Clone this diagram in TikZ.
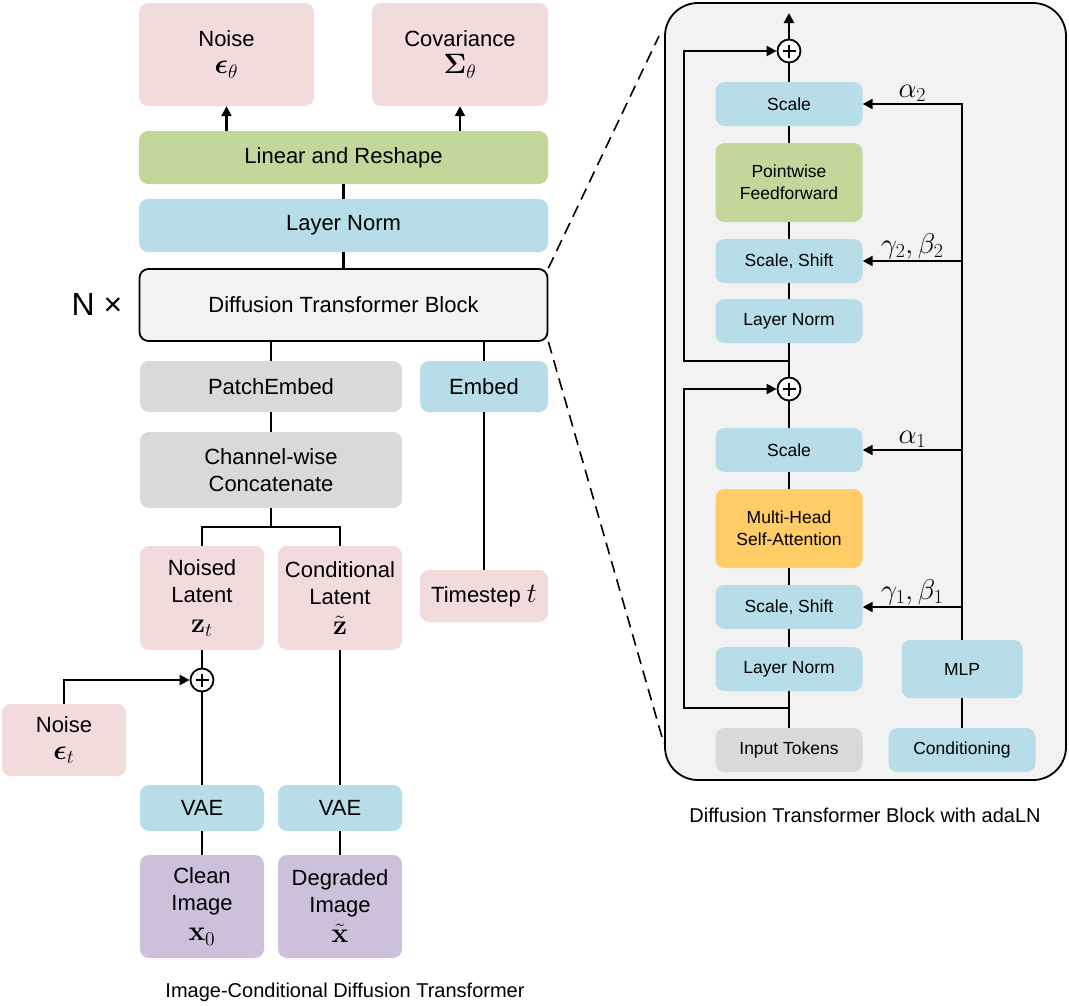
\documentclass[tikz,border=0pt]{standalone}
\usepackage{amsmath}
\usepackage{bm}
\usepackage[no-math]{fontspec}
\setmainfont{Liberation Sans}
\usetikzlibrary{arrows.meta}

\definecolor{pinkfill}{HTML}{F2DCDB}
\definecolor{greenfill}{HTML}{C4D79B}
\definecolor{bluefill}{HTML}{B7DEE8}
\definecolor{grayfill}{HTML}{D9D9D9}
\definecolor{purplefill}{HTML}{CCC0DA}
\definecolor{orangefill}{HTML}{FFCC66}
\definecolor{panelfill}{HTML}{F2F2F2}

\newcommand{\mathline}[1]{\scalebox{1.35}{$#1$}}
\newcommand{\gainlbl}[1]{\scalebox{1.15}{$#1$}}

\begin{document}
\begin{tikzpicture}[
    x=1pt, y=-1pt,
    wh/.style 2 args={minimum width=#1pt, minimum height=#2pt},
    block/.style={rounded corners=9pt, inner sep=0pt, align=center, font=\fontsize{22}{27}\selectfont},
    sblock/.style={block, wh={147}{44}, font=\fontsize{17.5}{22}\selectfont},
    plus/.style={circle, draw=black, fill=white, line width=1.8pt, minimum size=23pt, inner sep=0pt,
      path picture={\draw[line width=1.8pt] (path picture bounding box.center) +(-6.5pt,0) -- +(6.5pt,0)
        (path picture bounding box.center) +(0,-6.5pt) -- +(0,6.5pt);}},
    edge/.style={line width=2.2pt},
    arr/.style={edge, -{Triangle[length=10pt, width=10pt]}},
    zoomline/.style={line width=1.6pt, dash pattern=on 12pt off 7pt},
    caption/.style={font=\fontsize{20}{24}\selectfont},
    gain/.style={above, inner sep=1pt, font=\fontsize{26}{30}\selectfont}
  ]
  \useasboundingbox (0,0) rectangle (1069,1005);

  % left: image-conditional DiT
  \node (noiseout) at (226.5, 54.5)  [block, wh={175}{103}, fill=pinkfill] {Noise\\\mathline{\bm{\epsilon}_\theta}};
  \node (cov)      at (460, 54.5)    [block, wh={176}{103}, fill=pinkfill] {Covariance\\\mathline{\bm{\Sigma}_\theta}};
  \node (linear)   at (343.5, 157.5) [block, wh={409}{53}, fill=greenfill] {Linear and Reshape};
  \node (lnorm)    at (343.5, 225.5) [block, wh={409}{53}, fill=bluefill] {Layer Norm};
  \node (dit)      at (343.5, 305)   [block, wh={408}{72}, fill=panelfill, draw=black, line width=1.8pt] {Diffusion Transformer Block};
  \node (nx)       at (97, 304)      [font=\fontsize{32}{36}\selectfont] {N ×};

  \node (patch)    at (271, 386.5)   [block, wh={262}{51}, fill=grayfill] {PatchEmbed};
  \node (embed)    at (484, 386.5)   [block, wh={128}{51}, fill=bluefill] {Embed};
  \node (concat)   at (271, 470)     [block, wh={262}{76}, fill=grayfill] {Channel-wise\\Concatenate};
  \node (noised)   at (202, 598)     [block, wh={124}{104}, fill=pinkfill] {Noised\\Latent\\[3pt]\mathline{\mathbf{z}_t}};
  \node (cond)     at (340, 598)     [block, wh={124}{104}, fill=pinkfill] {Conditional\\Latent\\[3pt]\mathline{\tilde{\mathbf{z}}}};
  \node (tstep)    at (484, 596)     [block, wh={128}{52}, fill=pinkfill] {Timestep \mathline{t}};
  \node (plus1)    at (202, 680)     [plus] {};
  \node (noisein)  at (64, 740)      [block, wh={124}{72}, fill=pinkfill] {Noise\\\mathline{\bm{\epsilon}_t}};
  \node (vae1)     at (202, 808)     [block, wh={124}{46}, fill=bluefill] {VAE};
  \node (vae2)     at (340, 808)     [block, wh={124}{46}, fill=bluefill] {VAE};
  \node (clean)    at (202, 906.5)   [block, wh={124}{103}, fill=purplefill] {Clean\\Image\\[3pt]\mathline{\mathbf{x}_0}};
  \node (degr)     at (340, 906.5)   [block, wh={124}{103}, fill=purplefill] {Degraded\\Image\\[3pt]\mathline{\tilde{\mathbf{x}}}};
  \node (cap1)     at (345, 992)     [caption] {Image-Conditional Diffusion Transformer};

  \draw [arr] (linear.north -| noiseout) -- (noiseout.south);
  \draw [arr] (linear.north -| cov) -- (cov.south);
  \draw [edge] (linear.south) -- (lnorm.north);
  \draw [edge] (lnorm.south) -- (dit.north);
  \draw [edge] (patch.north) -- (patch |- dit.south);
  \draw [edge] (embed.north) -- (embed |- dit.south);
  \draw [edge] (concat.north) -- (patch.south);
  \draw [edge] (concat.south) -- ++(0,19) coordinate (split) -| (noised.north);
  \draw [edge] (split) -| (cond.north);
  \draw [edge] (tstep.north) -- (embed.south);
  \draw [edge] (noised.south) -- (plus1.north);
  \draw [edge] (plus1.south) -- (vae1.north);
  \draw [arr] (noisein.north) |- (plus1.west);
  \draw [edge] (cond.south) -- (vae2.north);
  \draw [edge] (vae1.south) -- (clean.north);
  \draw [edge] (vae2.south) -- (degr.north);

  % right: block with adaLN
  \node (panel)    at (865.5, 391.5) [wh={401}{777}, draw=black, line width=1.8pt, fill=panelfill, rounded corners=33pt] {};
  \node (plus3)    at (789, 51)      [plus] {};
  \node (scale2)   at (789, 104)     [sblock, fill=bluefill] {Scale};
  \node (ffn)      at (789, 182.5)   [sblock, wh={147}{79}, fill=greenfill] {Pointwise\\Feedforward};
  \node (shift2)   at (789, 261)     [sblock, fill=bluefill] {Scale, Shift};
  \node (ln2)      at (789, 321)     [sblock, fill=bluefill] {Layer Norm};
  \node (plus2)    at (789, 389)     [plus] {};
  \node (scale1)   at (789, 450)     [sblock, fill=bluefill] {Scale};
  \node (mhsa)     at (789, 528.5)   [sblock, wh={147}{79}, fill=orangefill] {Multi-Head\\Self-Attention};
  \node (shift1)   at (789, 607)     [sblock, fill=bluefill] {Scale, Shift};
  \node (ln1)      at (789, 669)     [sblock, fill=bluefill] {Layer Norm};
  \node (tokens)   at (789, 750)     [sblock, fill=grayfill] {Input Tokens};
  \node (mlp)      at (962, 669)     [sblock, wh={121}{58}, fill=bluefill] {MLP};
  \node (condn)    at (962, 750)     [sblock, fill=bluefill] {Conditioning};
  \node (cap2)     at (865, 815)     [caption] {Diffusion Transformer Block with adaLN};
  \coordinate (out)  at (789, 13);
  \coordinate (res1) at (789, 708);
  \coordinate (res2) at (789, 361);

  \draw [edge] (tokens.north) -- (ln1.south);
  \draw [edge] (ln1.north) -- (shift1.south);
  \draw [edge] (shift1.north) -- (mhsa.south);
  \draw [edge] (mhsa.north) -- (scale1.south);
  \draw [edge] (scale1.north) -- (plus2.south);
  \draw [edge] (plus2.north) -- (ln2.south);
  \draw [edge] (ln2.north) -- (shift2.south);
  \draw [edge] (shift2.north) -- (ffn.south);
  \draw [edge] (ffn.north) -- (scale2.south);
  \draw [edge] (scale2.north) -- (plus3.south);
  \draw [arr] (plus3.north) -- (out);
  \draw [arr] (res1) -- ++(-105,0) |- (plus2.west);
  \draw [arr] (res2) -- ++(-105,0) |- (plus3.west);

  \draw [edge] (condn.north) -- (mlp.south);
  \draw [arr] (mlp.north) |- node [gain, pos=0.75] {\gainlbl{\alpha_2}} (scale2.east);
  \draw [arr] (mlp.north |- shift2) -- node [gain] {\gainlbl{\gamma_2, \beta_2}} (shift2.east);
  \draw [arr] (mlp.north |- scale1) -- node [gain] {\gainlbl{\alpha_1}} (scale1.east);
  \draw [arr] (mlp.north |- shift1) -- node [gain] {\gainlbl{\gamma_1, \beta_1}} (shift1.east);

  \coordinate (zt) at (659, 36);
  \coordinate (zb) at (664, 744);
  \draw [zoomline] (dit.north east) -- (zt);
  \draw [zoomline] (dit.south east) -- (zb);
\end{tikzpicture}
\end{document}
